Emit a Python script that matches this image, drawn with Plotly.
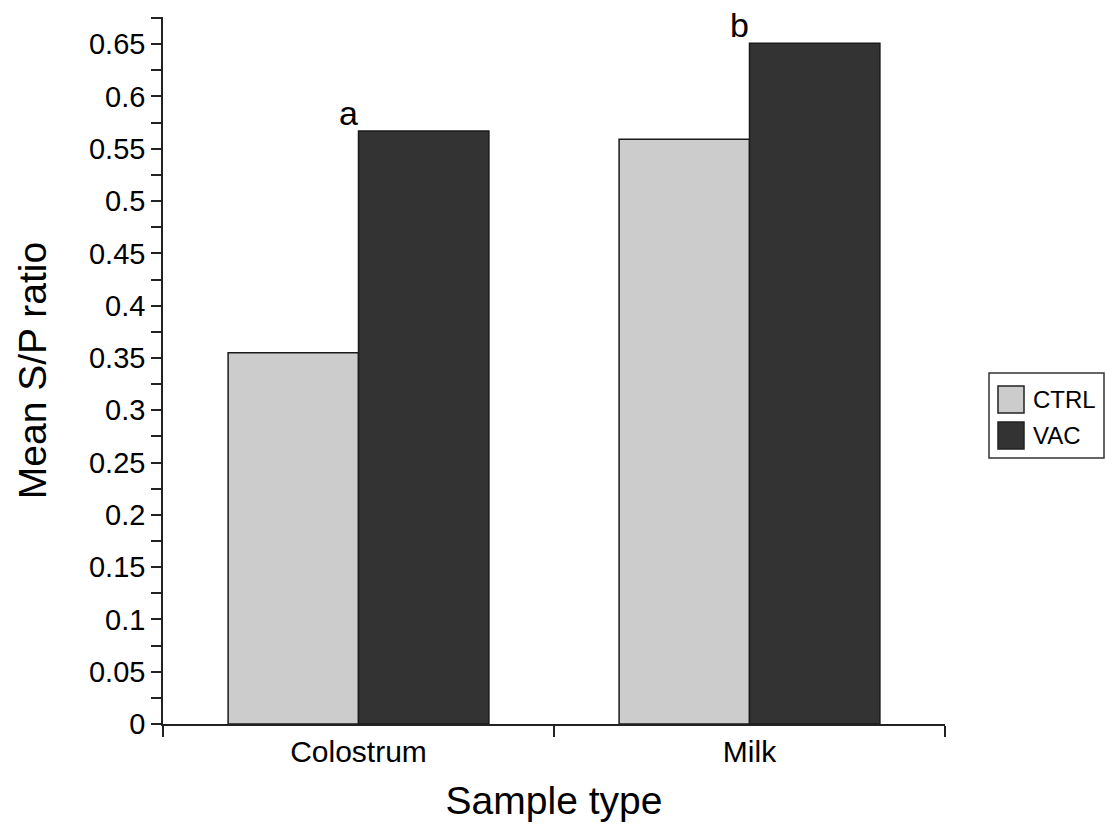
import plotly.graph_objects as go

# ---- data ----
categories = ["Colostrum", "Milk"]
series_names = ["CTRL", "VAC"]
ctrl_values = [0.355, 0.559]
vac_values = [0.567, 0.651]
sig_letters = ["a", "b"]
y_tick_vals = [0, 0.05, 0.1, 0.15, 0.2, 0.25, 0.3, 0.35, 0.4, 0.45, 0.5, 0.55, 0.6, 0.65]
y_tick_text = ["0", "0.05", "0.1", "0.15", "0.2", "0.25", "0.3", "0.35", "0.4", "0.45",
               "0.5", "0.55", "0.6", "0.65"]
x_title = "Sample type"
y_title = "Mean S/P ratio"

# ---- style ----
W, H = 1106, 832
ML, MR, MT, MB = 163, 161, 17, 108
FONT = "Liberation Sans, Arial, Helvetica, sans-serif"
colors = ["#cccccc", "#333333"]
edge = "#1a1a1a"

fig = go.Figure()
for name, vals, col in zip(series_names, [ctrl_values, vac_values], colors):
    fig.add_trace(go.Bar(
        x=categories, y=vals, name=name,
        marker=dict(color=col, line=dict(color=edge, width=1.5)),
        showlegend=False,
    ))

# significance letters above VAC bars
for cat, val, letter in zip(categories, vac_values, sig_letters):
    fig.add_annotation(x=cat, y=val, text=letter, showarrow=False,
                       xref="x", yref="y", xanchor="center", yanchor="bottom",
                       xshift=-10, yshift=-2, borderpad=0,
                       font=dict(family=FONT, size=34, color="#000000"))

# manual legend (paper coords from pixel geometry)
pw, ph = W - ML - MR, H - MT - MB
def px(x):
    return (x - ML) / pw
def py(y):
    return (H - MB - y) / ph

fig.add_shape(type="rect", xref="paper", yref="paper",
              x0=px(989), x1=px(1104), y0=py(458), y1=py(373),
              line=dict(color="#333333", width=1.5), fillcolor="white")
sw_tops = [386, 422]
for name, col, top in zip(series_names, colors, sw_tops):
    fig.add_shape(type="rect", xref="paper", yref="paper",
                  x0=px(998), x1=px(1024), y0=py(top + 27), y1=py(top),
                  line=dict(color="#222222", width=1.5), fillcolor=col)
    fig.add_annotation(xref="paper", yref="paper", x=px(1031), y=py(top + 13.5),
                       text=name, showarrow=False, xanchor="left", yanchor="middle",
                       font=dict(family=FONT, size=24, color="#000000"))

fig.update_layout(
    width=W, height=H,
    margin=dict(l=ML, r=MR, t=MT, b=MB, pad=0),
    paper_bgcolor="white", plot_bgcolor="white",
    barmode="group", bargap=0.333, bargroupgap=0,
    font=dict(family=FONT, color="#000000"),
    showlegend=False,
)
fig.update_xaxes(
    type="category", range=[-0.5, 1.5],
    showline=True, linecolor="#222222", linewidth=1.5,
    ticks="outside", tickson="boundaries", ticklen=11, tickwidth=1.5, tickcolor="#222222",
    tickfont=dict(family=FONT, size=30, color="#000000"),
    showgrid=False, zeroline=False,
    title=dict(text=x_title, font=dict(family=FONT, size=39, color="#000000"), standoff=20),
)
fig.update_yaxes(
    range=[0, 0.676],
    tickvals=y_tick_vals, ticktext=y_tick_text,
    showline=True, linecolor="#222222", linewidth=1.5,
    ticks="outside", ticklen=10, tickwidth=1.5, tickcolor="#222222",
    minor=dict(dtick=0.025, tick0=0, ticks="outside", ticklen=10, tickwidth=1.5, tickcolor="#222222"),
    tickfont=dict(family=FONT, size=29, color="#000000"),
    showgrid=False, zeroline=False,
    title=dict(text=y_title, font=dict(family=FONT, size=39, color="#000000"), standoff=30),
)

# remove the page's default body margin so the figure fills the window exactly
fig.write_html("out.html",
               config={"displayModeBar": False},
               post_script="document.body.style.margin='0';document.body.style.overflow='hidden';")
